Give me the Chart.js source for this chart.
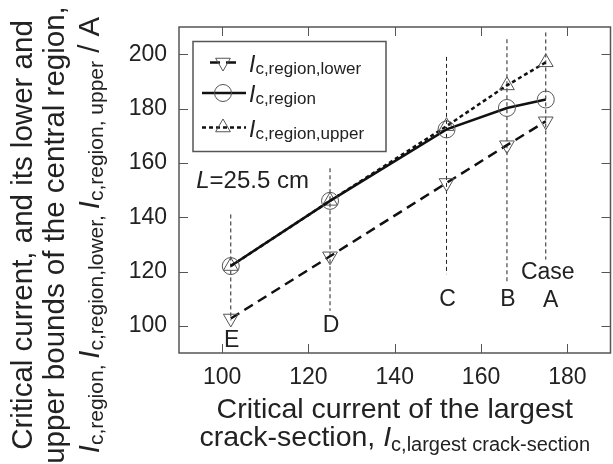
<!DOCTYPE html>
<html>
<head>
<meta charset="utf-8">
<script src="https://cdn.jsdelivr.net/npm/chart.js@4"></script>
<style>
  html, body { margin: 0; padding: 0; background: #fff; overflow: hidden; }
  #wrap { position: absolute; left: 0; top: 0; width: 620px; height: 464px; }
</style>
</head>
<body>
<div id="wrap"><canvas id="icChart" width="620" height="464"></canvas></div>
<script>
/* data */
const caseNames = ['E', 'D', 'C', 'B', 'A'];
const icLargest = [102, 125, 152, 166, 175];
const icLower = [102.7, 125.6, 152.6, 166.5, 175.3];
const icRegion = [122, 146, 172.3, 180.2, 183.3];
const icUpper = [122, 146, 173.5, 188.5, 197];
const guideTop = [141, 158, 199, 205.5, 208];
const guideBottom = [102, 105.5, 119, 116, 124.4];
const caseLabelY = [94.4, 100, 109.8, 109.6, 109.4];
const xTicks = [100, 120, 140, 160, 180];
const yTicks = [100, 120, 140, 160, 180, 200];

const FONT = "'Liberation Sans', Arial, sans-serif";
const INK = '#222';
const MARK = '#555';

function pts(ys) {
  return icLargest.map((x, i) => ({ x, y: ys[i] }));
}

// text made of pieces: plain, italic, subscript
function runWidth(ctx, runs, size, subSize) {
  let w = 0;
  runs.forEach((r) => {
    ctx.font = (r.it ? 'italic ' : '') + (r.sub ? subSize : size) + 'px ' + FONT;
    w += ctx.measureText(r.t).width;
  });
  return w;
}
function drawRuns(ctx, runs, x, y, size, subSize, subDrop) {
  let cx = x;
  ctx.textBaseline = 'alphabetic';
  ctx.textAlign = 'left';
  runs.forEach((r) => {
    ctx.font = (r.it ? 'italic ' : '') + (r.sub ? subSize : size) + 'px ' + FONT;
    ctx.fillText(r.t, cx, y + (r.sub ? subDrop : 0));
    cx += ctx.measureText(r.t).width;
  });
}
function drawRunsCentered(ctx, runs, cx, y, size, subSize, subDrop) {
  const w = runWidth(ctx, runs, size, subSize);
  drawRuns(ctx, runs, cx - w / 2, y, size, subSize, subDrop);
}

const datasets = [
  {
    label: 'lower',
    data: pts(icLower),
    borderColor: '#111',
    borderWidth: 2.5,
    borderDash: [10, 6],
    pointStyle: 'triangle',
    rotation: 180,
    pointRadius: 8.5,
    pointBorderColor: MARK,
    pointBorderWidth: 1,
    pointBackgroundColor: 'rgba(0,0,0,0)',
    order: 0,
  },
  {
    label: 'region',
    data: pts(icRegion),
    borderColor: '#111',
    borderWidth: 2.5,
    pointStyle: 'circle',
    pointRadius: 8.5,
    pointBorderColor: MARK,
    pointBorderWidth: 1,
    pointBackgroundColor: 'rgba(0,0,0,0)',
    order: 0,
  },
  {
    label: 'upper',
    data: pts(icUpper),
    borderColor: '#111',
    borderWidth: 2.5,
    borderDash: [4, 3],
    pointStyle: 'triangle',
    pointRadius: 8.5,
    pointBorderColor: MARK,
    pointBorderWidth: 1,
    pointBackgroundColor: 'rgba(0,0,0,0)',
    order: 0,
  },
];

for (let i = 0; i < icLargest.length; i += 1) {
  datasets.push({
    label: 'case ' + caseNames[i],
    data: [{ x: icLargest[i], y: guideTop[i] }, { x: icLargest[i], y: guideBottom[i] }],
    borderColor: '#222',
    borderWidth: 1,
    borderDash: [4, 3],
    pointRadius: 0,
    order: 1,
  });
}

const decorations = {
  id: 'decorations',
  afterDraw(chart) {
    const { ctx, chartArea: a } = chart;
    const xs = chart.scales.x;
    const ys = chart.scales.y;
    ctx.save();

    // frame and inward ticks
    ctx.strokeStyle = MARK;
    ctx.lineWidth = 1.5;
    ctx.strokeRect(a.left, a.top, a.right - a.left, a.bottom - a.top);
    ctx.lineWidth = 1;
    ctx.beginPath();
    xTicks.forEach((v) => {
      const px = Math.round(xs.getPixelForValue(v)) + 0.5;
      ctx.moveTo(px, a.bottom); ctx.lineTo(px, a.bottom - 9);
      ctx.moveTo(px, a.top); ctx.lineTo(px, a.top + 9);
    });
    yTicks.forEach((v) => {
      const py = Math.round(ys.getPixelForValue(v)) + 0.5;
      ctx.moveTo(a.left, py); ctx.lineTo(a.left + 9, py);
      ctx.moveTo(a.right, py); ctx.lineTo(a.right - 9, py);
    });
    ctx.stroke();

    ctx.fillStyle = INK;

    // case letters
    ctx.font = '23px ' + FONT;
    ctx.textAlign = 'center';
    ctx.textBaseline = 'middle';
    caseNames.forEach((n, i) => {
      ctx.fillText(n, xs.getPixelForValue(icLargest[i]) + (i === 4 ? 5 : 1), ys.getPixelForValue(caseLabelY[i]));
    });
    ctx.fillText('Case', xs.getPixelForValue(icLargest[4]) + 2, ys.getPixelForValue(119.6));

    // length note
    drawRuns(ctx, [{ t: 'L', it: true }, { t: '=25.5 cm' }],
      xs.getPixelForValue(94), ys.getPixelForValue(150.8), 24, 24, 0);

    // legend
    ctx.strokeStyle = MARK;
    ctx.lineWidth = 1.5;
    ctx.strokeRect(193, 41.5, 193, 110);
    const rows = [
      { y: 62.5, sub: 'c,region,lower', ds: datasets[0], x0: 210, x1: 242 },
      { y: 93, sub: 'c,region', ds: datasets[1], x0: 202, x1: 246 },
      { y: 127.5, sub: 'c,region,upper', ds: datasets[2], x0: 202, x1: 246 },
    ];
    rows.forEach((r) => {
      ctx.save();
      ctx.strokeStyle = '#111';
      ctx.lineWidth = 2.5;
      ctx.setLineDash(r.ds.borderDash || []);
      ctx.beginPath();
      ctx.moveTo(r.x0, r.y);
      ctx.lineTo(r.x1, r.y);
      ctx.stroke();
      ctx.restore();
      ctx.strokeStyle = MARK;
      ctx.fillStyle = 'rgba(0,0,0,0)';
      ctx.lineWidth = 1;
      Chart.helpers.drawPoint(ctx, {
        pointStyle: r.ds.pointStyle,
        rotation: r.ds.rotation || 0,
        radius: 8.5,
        borderWidth: 1,
      }, 223, r.y);
      ctx.fillStyle = INK;
      drawRuns(ctx, [{ t: 'I', it: true }, { t: r.sub, sub: true }], 249, r.y + 9, 23, 17, 2);
    });

    // x-axis title
    const cx = (a.left + a.right) / 2;
    ctx.fillStyle = INK;
    ctx.font = '28.5px ' + FONT;
    ctx.textAlign = 'center';
    ctx.textBaseline = 'alphabetic';
    ctx.fillText('Critical current of the largest', cx, 418);
    drawRunsCentered(ctx, [{ t: 'crack-section, ' }, { t: 'I', it: true }, { t: 'c,largest crack-section', sub: true }],
      cx, 446, 28.5, 20, 5);

    // y-axis title
    ctx.save();
    ctx.translate(0, 235);
    ctx.rotate(-Math.PI / 2);
    ctx.font = '29.5px ' + FONT;
    ctx.textAlign = 'center';
    ctx.fillText('Critical current, and its lower and', 0, 32);
    ctx.fillText('upper bounds of the central region,', 0, 64);
    drawRunsCentered(ctx, [
      { t: 'I', it: true }, { t: 'c,region, ', sub: true },
      { t: 'I', it: true }, { t: 'c,region,lower, ', sub: true },
      { t: 'I', it: true }, { t: 'c,region, upper', sub: true },
      { t: ' / A' },
    ], 0, 99, 29.5, 21, 4);
    ctx.restore();

    ctx.restore();
  },
};

function icChart() {
  const config = {
    type: 'line',
    data: { datasets },
    options: {
      responsive: false,
      animation: false,
      layout: { padding: { top: 27, right: 5, left: 0, bottom: 0 } },
      plugins: { legend: { display: false }, tooltip: { enabled: false } },
      scales: {
        x: {
          type: 'linear',
          min: 90,
          max: 190,
          grid: { display: false, drawTicks: false },
          border: { display: false },
          ticks: { color: INK, font: { family: FONT, size: 23 }, padding: 11 },
          afterBuildTicks: (s) => { s.ticks = xTicks.map((value) => ({ value })); },
          afterFit: (s) => { s.height = 111; },
        },
        y: {
          min: 90,
          max: 210,
          grid: { display: false, drawTicks: false },
          border: { display: false },
          ticks: { color: INK, font: { family: FONT, size: 23 }, padding: 12 },
          afterBuildTicks: (s) => { s.ticks = yTicks.map((value) => ({ value })); },
          afterFit: (s) => { s.width = 179; },
        },
      },
    },
    plugins: [decorations],
  };
  return new Chart(document.getElementById('icChart'), config);
}

icChart();
</script>
</body>
</html>
